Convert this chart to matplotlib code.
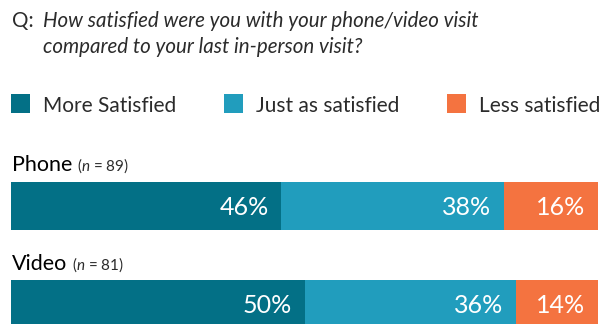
import numpy as np
import matplotlib.pyplot as plt
from matplotlib.patches import Rectangle

plt.rcParams['font.family'] = ['Lato', 'DejaVu Sans']
plt.rcParams['mathtext.fontset'] = 'custom'
plt.rcParams['mathtext.rm'] = 'Lato'
plt.rcParams['mathtext.it'] = 'Lato:italic'

# survey results
groups = ["Phone", "Video"]
group_n = [89, 81]
answers = ["More Satisfied", "Just as satisfied", "Less satisfied"]
more_satisfied = [46, 50]
just_as_satisfied = [38, 36]
less_satisfied = [16, 14]

colors = ["#037086", "#219DBD", "#F47340"]
text_color = "#2b2b2b"

W, H = 609, 324
fig = plt.figure(figsize=(W / 100, H / 100), dpi=100)


def fx(x):
    return x / W


def fy(y):
    return 1 - y / H


# question
fig.text(fx(12), fy(27), "Q:", fontsize=14.8, color=text_color, va="baseline")
fig.text(fx(43), fy(27), "How satisfied were you with your phone/video visit",
         fontsize=14.8, style="italic", color=text_color, va="baseline")
fig.text(fx(43), fy(53), "compared to your last in-person visit?",
         fontsize=14.8, style="italic", color=text_color, va="baseline")

# legend
legend_x = [11, 224, 447]
for lx, name, c in zip(legend_x, answers, colors):
    fig.patches.append(Rectangle((fx(lx), fy(113)), 19 / W, 19 / H,
                                 transform=fig.transFigure, color=c, lw=0))
    fig.text(fx(lx + 32), fy(112), name, fontsize=15, color=text_color,
             va="baseline")

# bars: axes spans from top of first bar to bottom of second bar
bar_h = 0.49
top_px, pitch = 182, 98
ax_top = top_px
ax_bottom = top_px + pitch * (len(groups) - 1 + bar_h)
ax = fig.add_axes([fx(11), fy(ax_bottom), (598 - 11) / W, (ax_bottom - ax_top) / H])
ax.set_xlim(0, 100)
ax.set_ylim(len(groups) - 1 + bar_h / 2, -bar_h / 2)
ax.axis("off")

y = np.arange(len(groups))
series = [more_satisfied, just_as_satisfied, less_satisfied]
left = np.zeros(len(groups))
for vals, c in zip(series, colors):
    vals = np.array(vals)
    ax.barh(y, vals, left=left, height=bar_h, color=c, lw=0)
    for i, v in enumerate(vals):
        ax.annotate(f"{v}%", xy=(left[i] + v, i), xytext=(-9, -6.5),
                    textcoords="offset points", ha="right", va="baseline",
                    fontsize=18, color="white")
    left += vals

# group labels
label_base = [171, 270]
for name, n, yb in zip(groups, group_n, label_base):
    t = fig.text(fx(12), fy(yb), name, fontsize=15.5, color="black", va="baseline")
    fig.canvas.draw()
    bb = t.get_window_extent()
    fig.text(bb.x1 / W + fx(5), fy(yb), rf"($\mathit{{n}}$ = {n})",
             fontsize=11, color=text_color, va="baseline")

fig.savefig("out.png", dpi=100)
